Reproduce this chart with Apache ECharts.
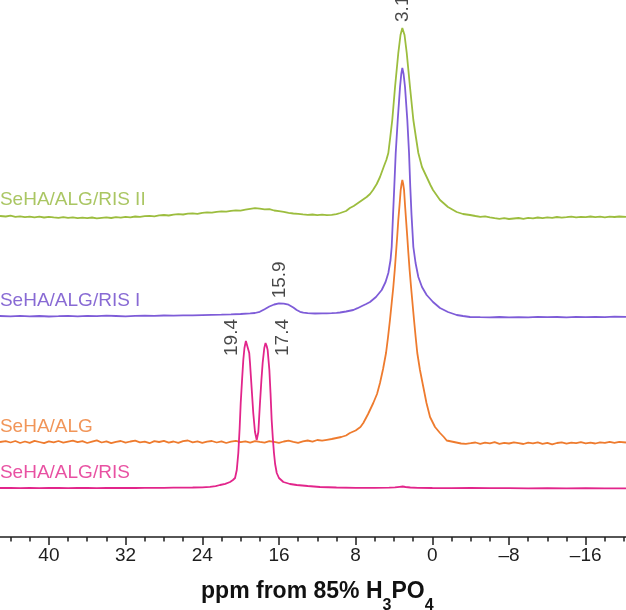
<!DOCTYPE html>
<html><head><meta charset="utf-8">
<script src="https://cdn.jsdelivr.net/npm/echarts@6/dist/echarts.min.js"></script>
<style>html,body{margin:0;padding:0;background:#fff}#c{width:626px;height:610px}</style>
</head><body><div id="c"></div>
<script>
// Spectrum names (top to bottom) and stacking offsets (intensity units above the axis)
const seriesNames = ['SeHA/ALG/RIS II', 'SeHA/ALG/RIS I', 'SeHA/ALG', 'SeHA/ALG/RIS'];
const seriesOffsets = [321, 221, 95, 49];

// [ppm, intensity]
const specRIS2 = [[45.1,0],[44.5,-0.5],[44,0.3],[43.5,-0.8],[43,-0.3],[42.5,-1.2],[42,-0.6],[41.5,-1.3],[41,-0.7],[40.5,-1.5],[40,-0.9],[39.5,-1.4],[39,-1.8],[38.5,-1.1],[38,-1.9],[37.5,-1.4],[37,-2.2],[36.5,-1.6],[36,-2.1],[35.5,-1.5],[35,-2.3],[34.5,-1.8],[34,-1.4],[33.5,-2],[33,-1.2],[32.5,-1.6],[32,-0.9],[31.5,-1.3],[31,-0.5],[30.5,-0.9],[30,-0.2],[29.5,0.2],[29,-0.3],[28.5,0.6],[28,1],[27.5,0.5],[27,1.4],[26.5,1.9],[26,1.5],[25.5,2.3],[25,2.7],[24.5,2.2],[24,3.2],[23.5,3.6],[23,3.3],[22.5,4.2],[22,4.6],[21.5,4.4],[21,5.2],[20.5,5.6],[20,5.3],[19.5,6.3],[19,7.2],[18.5,7.8],[18,7.4],[17.5,6.6],[17,6.9],[16.5,5.5],[16,4.8],[15.5,4.1],[15,3.2],[14.5,2.5],[14,2.2],[13.5,1.6],[13,1.2],[12.5,1.5],[12,0.9],[11.5,1.3],[11,0.8],[10.5,1.2],[10,1.8],[9.6,3],[9,5],[8.6,8],[8.2,10],[7.75,13],[7.3,16],[6.85,19],[6.5,22],[6.19,26],[5.8,32],[5.46,39],[5.04,50],[4.8,56],[4.59,63],[4.4,78],[4.18,96],[3.89,129],[3.55,163],[3.32,181],[3.13,188],[2.9,181],[2.67,163],[2.33,129],[1.98,96],[1.7,78],[1.46,63],[1.08,49],[0.59,39],[0.2,31],[-0.07,26],[-0.8,16],[-1.63,9],[-2.54,4],[-3.2,2],[-3.93,1],[-4.5,0],[-5,-0.8],[-5.5,-0.3],[-6,-1.4],[-6.5,-2.2],[-7,-2.8],[-7.5,-2.2],[-8,-3],[-8.5,-2.5],[-9,-2],[-9.5,-2.8],[-10,-1.8],[-10.5,-2.3],[-11,-1.5],[-11.5,-2.1],[-12,-1.3],[-12.5,-1.9],[-13,-1],[-13.5,-1.6],[-14,-1.2],[-14.5,-0.6],[-15,-1.4],[-15.5,-0.8],[-16,-1.2],[-16.5,-0.5],[-17,-1.1],[-17.5,-0.6],[-18,-1.3],[-18.5,-0.7],[-19,-1],[-19.5,-0.5],[-20.2,-0.9]];

const specRIS1 = [[45.1,0],[44,-0.3],[43,0.2],[42,-0.4],[41,0],[40,-0.5],[39,-0.2],[38,0.2],[37,-0.3],[36,0.1],[35,-0.2],[34,0.3],[33,0],[32,-0.3],[31,0.2],[30,0.4],[29,0.1],[28,0.5],[27,0.3],[26,0.7],[25,0.6],[24,0.9],[23,1.1],[22,1.3],[21,1.6],[20,2],[19,2.6],[18.5,3],[18,4.2],[17.5,6.8],[17,9.5],[16.5,11.5],[16,12.6],[15.5,12.4],[15,11.3],[14.5,8.5],[14.15,6],[13.8,4.2],[13.46,3.3],[13,2.8],[12.24,2.5],[11.5,2.6],[11,2.7],[10.5,2.8],[10,3.1],[9.63,3.5],[9,4.5],[8.24,6],[7.8,7.8],[7.34,10],[6.9,12],[6.5,14],[5.88,19],[5.28,26],[4.88,34],[4.59,43],[4.36,56],[4.24,69],[4.1,101],[3.97,129],[3.82,163],[3.61,196],[3.37,229],[3.24,242],[3.13,248],[3.0,242],[2.85,229],[2.61,196],[2.43,163],[2.3,129],[2.17,101],[1.98,69],[1.75,53],[1.46,39],[1.08,29],[0.59,21],[-0.07,14],[-0.8,8],[-1.63,4],[-2.54,1],[-3.2,0],[-3.93,-1],[-5,-1.2],[-6,-1.3],[-7,-1],[-8,-1.4],[-9,-1.1],[-10,-1.3],[-11,-0.9],[-12,-1.2],[-13,-1],[-14,-1.3],[-15,-0.9],[-16,-1.1],[-17,-0.8],[-18,-1.1],[-19,-0.7],[-20.2,-0.8]];

const specALG = [[45.1,0],[44.5,0.8],[44,-0.5],[43.5,1],[43,-1],[42.5,0.5],[42,-0.8],[41.5,1.2],[41,0],[40.5,-1.2],[40,0.6],[39.5,-0.4],[39,1],[38.5,-0.6],[38,0.4],[37.5,1.4],[37,-0.2],[36.5,0.8],[36,-1],[35.5,0.3],[35,1.6],[34.5,-0.5],[34,0.7],[33.5,-1.1],[33,0.2],[32.5,1],[32,-0.7],[31.5,0.5],[31,1.3],[30.5,-0.3],[30,0.4],[29.5,-1.2],[29,0.9],[28.5,0],[28,1.1],[27.5,-0.6],[27,0.5],[26.5,-0.9],[26,0.8],[25.5,1.5],[25,-0.3],[24.5,0.6],[24,-0.8],[23.5,0.4],[23,1],[22.5,-0.5],[22,0.7],[21.5,-1],[21,0.3],[20.5,1.2],[20,-0.2],[19.5,0.6],[19,-0.7],[18.5,0.9],[18,0.1],[17.5,-0.6],[17,0.8],[16.5,0.2],[16,-0.9],[15.5,0.5],[15,1.3],[14.5,0.2],[14,-0.8],[13.5,0.6],[13,1.5],[12.5,0.4],[12,2],[11.5,1.4],[11,2.2],[10.5,3],[10,4],[9.5,5],[9,6.5],[8.6,9],[8,11.5],[7.5,15],[7.2,19],[6.7,28],[6.16,39],[5.77,48],[5.46,59],[5.14,73],[4.83,89],[4.62,105],[4.42,122],[4.24,139],[4.07,155],[3.92,172],[3.79,189],[3.66,206],[3.55,222],[3.42,237],[3.3,252],[3.21,258],[3.13,262],[3.04,258],[2.95,252],[2.85,237],[2.74,222],[2.62,206],[2.5,189],[2.37,172],[2.22,155],[2.07,139],[1.91,122],[1.74,105],[1.57,89],[1.29,72],[0.94,55],[0.61,39],[0.24,25],[-0.28,15],[-0.8,9],[-1.2,5],[-1.5,1.5],[-2,0.5],[-2.5,-0.5],[-3,-1.5],[-3.2,-3.5],[-3.5,-1.8],[-4,-1.2],[-4.5,-0.5],[-5,-1.8],[-5.5,-0.6],[-6,-1.4],[-6.5,-0.2],[-7,-1.9],[-7.5,-0.8],[-8,-1.5],[-8.5,-0.4],[-9,-1.2],[-9.5,-2],[-10,-0.7],[-10.5,-1.3],[-11,-0.3],[-11.5,-1.8],[-12,-0.9],[-12.5,-2.4],[-13,-1],[-13.5,-0.4],[-14,-1.6],[-14.5,-0.6],[-15,-1.1],[-15.5,-0.2],[-16,-1.3],[-16.5,-0.7],[-17,-1.5],[-17.5,-0.3],[-18,-0.9],[-18.5,0.2],[-19,-0.8],[-19.5,0.1],[-20.2,-0.5]];

const specRIS = [[45.1,0],[44,0.2],[43,-0.1],[42,0.1],[41,-0.2],[40,0],[39,0.2],[38,-0.1],[37,0.1],[36,0],[35,-0.2],[34,0.1],[33,0],[32,0.2],[31,0],[30,0.1],[29,0.2],[28,0.1],[27,0.3],[26,0.4],[25,0.5],[24,0.7],[23.2,1.2],[22.6,1.8],[22.15,3],[21.6,4.2],[21.1,6],[20.8,8],[20.58,10],[20.4,18],[20.24,35],[20.1,60],[19.99,85],[19.85,108],[19.72,128],[19.6,140],[19.45,147],[19.36,148],[19.25,145],[19.1,135],[19.02,125],[18.85,100],[18.68,75],[18.5,56],[18.32,48],[18.15,56],[17.98,85],[17.83,108],[17.7,125],[17.53,140],[17.4,145],[17.28,142],[17.18,138],[17.0,118],[16.88,95],[16.76,68],[16.64,50],[16.52,35],[16.4,24],[16.23,15],[16.0,10],[15.54,6],[14.85,4],[14.15,3],[13,2],[11.72,1],[10,0.5],[8,0.2],[6,0.2],[4.5,0.3],[3.9,0.6],[3.4,1.2],[3.1,1.5],[2.8,1],[2.3,0.5],[1.5,0.2],[0,0],[-2,-0.1],[-4,0],[-6,-0.2],[-8,-0.1],[-10,-0.3],[-12,-0.2],[-14,-0.3],[-16,-0.2],[-18,-0.3],[-20.2,-0.3]];

const spectra = [specRIS2, specRIS1, specALG, specRIS];
const seriesColors = ['#9cbd3e', '#7e5cd8', '#ee7b2e', '#e2258b'];
const labelColors = ['#95b83c', '#6a45c9', '#ee7b2e', '#e2258b'];

// Peak annotations: which spectrum, position (ppm), text
const peakLabels = [
  { spectrum: 0, ppm: 3.13, text: '3.1' },
  { spectrum: 1, ppm: 15.9, text: '15.9' },
  { spectrum: 3, ppm: 19.36, text: '19.4' },
  { spectrum: 3, ppm: 17.4, text: '17.4' }
];

// x-axis ticks
const tickInterval = 8;
const axisMin = -24, axisMax = 48;

const FONT = "'Liberation Sans', Arial, Helvetica, sans-serif";

function heightAt(spec, ppm) {
  let best = spec[0];
  for (const p of spec) if (Math.abs(p[0] - ppm) < Math.abs(best[0] - ppm)) best = p;
  return best[1];
}

const labelPlacement = {
  '3.1':  { position: [0, -6], align: 'left' },
  '15.9': { position: [0, -5], align: 'left' },
  '19.4': { position: [-15, 16], align: 'left' },
  '17.4': { position: [17, 13], align: 'left' }
};

const series = spectra.map((spec, i) => ({
  name: seriesNames[i],
  type: 'line',
  data: spec.map(p => [p[0], p[1] + seriesOffsets[i]]),
  showSymbol: false,
  symbol: 'none',
  lineStyle: { color: seriesColors[i], width: 1.8 },
  itemStyle: { color: seriesColors[i] },
  animation: false,
  silent: true,
  z: 2 + i
}));

series.push({
  type: 'scatter',
  symbolSize: 0.1,
  itemStyle: { color: 'transparent' },
  silent: true,
  animation: false,
  z: 10,
  data: spectra.map((spec, i) => ({
    value: [spec[0][0], spec[0][1] + seriesOffsets[i]],
    name: seriesNames[i],
    label: {
      show: true, formatter: '{b}', position: [0, i === 0 ? -16 : -15],
      align: 'left', verticalAlign: 'middle',
      color: labelColors[i], fontSize: 19, fontFamily: FONT
    }
  }))
});

series.push({
  type: 'scatter',
  symbolSize: 0.1,
  itemStyle: { color: 'transparent' },
  silent: true,
  animation: false,
  z: 10,
  data: peakLabels.map(pk => ({
    value: [pk.ppm, heightAt(spectra[pk.spectrum], pk.ppm) + seriesOffsets[pk.spectrum]],
    name: pk.text,
    label: {
      show: true, formatter: '{b}', rotate: 90,
      position: labelPlacement[pk.text].position,
      align: labelPlacement[pk.text].align, verticalAlign: 'middle',
      color: '#1a1a1a', fontSize: 19, fontFamily: FONT
    }
  }))
});

const chart = echarts.init(document.getElementById('c'), null, { renderer: 'canvas' });
chart.setOption({
  animation: false,
  backgroundColor: '#ffffff',
  grid: { left: -27.8, right: -36.4, top: 0, bottom: 73, containLabel: false, outerBoundsMode: 'none' },
  xAxis: {
    type: 'value', min: axisMin, max: axisMax, interval: tickInterval, inverse: true,
    axisLine: { show: true, onZero: false, lineStyle: { color: '#1e1e1e', width: 1.5 } },
    axisTick: { show: true, length: 8, lineStyle: { color: '#1e1e1e', width: 1.5 } },
    minorTick: { show: true, splitNumber: 4, length: 4.5, lineStyle: { color: '#1e1e1e', width: 1.5 } },
    splitLine: { show: false },
    axisLabel: {
      fontSize: 19, color: '#1e1e1e', fontFamily: FONT, margin: 9,
      formatter: v => (v < 0 ? '\u2013' + (-v) : String(v))
    },
    name: 'ppm from 85% H{s|3}PO{s|4}',
    nameLocation: 'middle', nameGap: 30,
    nameTextStyle: {
      fontSize: 23, fontWeight: 'bold', color: '#111', fontFamily: FONT, lineHeight: 44,
      rich: { s: { fontSize: 16, fontWeight: 'bold', color: '#111', fontFamily: FONT, lineHeight: 16, verticalAlign: 'bottom' } }
    }
  },
  yAxis: { type: 'value', min: 0, max: 537, show: false },
  series
});
</script>
</body></html>
